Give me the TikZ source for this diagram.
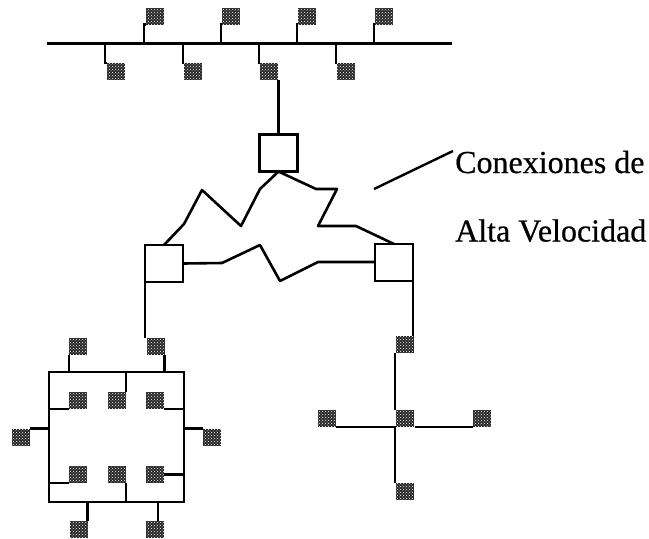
\documentclass[tikz,border=0pt]{standalone}
\usepackage{fontspec}
\usetikzlibrary{patterns}
\setmainfont[FakeBold=0.6]{Liberation Serif}
\begin{document}
\begin{tikzpicture}[x=1pt,y=-1pt,
  wire/.style={line width=2.4pt,black},
  thick wire/.style={line width=2.6pt,black},
  host/.style={draw=none,preaction={fill=black!85},pattern=crosshatch dots,pattern color=white,minimum width=18pt,minimum height=17pt,inner sep=0pt,outer sep=0pt,rectangle},
  switch/.style={draw=black,line width=2.6pt,fill=white,minimum width=38pt,minimum height=37pt,inner sep=0pt,outer sep=0pt,rectangle},
  label text/.style={inner sep=0pt,anchor=base west,font=\fontsize{32}{32}\selectfont}]
\useasboundingbox (0,0) rectangle (649,539);
% bus
\coordinate (busL) at (47,43.5);
\coordinate (busR) at (452,43.5);
\draw[thick wire] (busL) -- (busR);
\foreach \n/\x in {u1/154.5,u2/231,u3/307,u4/384}
  \node[host] (\n) at (\x,16) {};
\foreach \n/\x in {d1/116,d2/193,d3/269,d4/346}
  \node[host] (\n) at (\x,71.5) {};
\foreach \n/\x in {u1/144,u2/221,u3/297,u4/374}
  {\coordinate (b\n) at (\x,43.5); \draw[wire] (b\n) |- (\n.south west);}
\foreach \n/\x in {d1/105,d2/183,d3/259,d4/336}
  {\coordinate (b\n) at (\x,43.5); \draw[wire] (b\n) |- (\n.north west);}
% switches
\node[switch] (sT) at (278.5,153) {};
\node[switch] (sL) at (164,263.5) {};
\node[switch] (sR) at (394,262.5) {};
\draw[wire] (sT.north |- d3.south) -- (sT.north);
% zigzags
\draw[thick wire,line join=round] (sT.south) -- (260,189) -- (241,226) -- (202,190) -- (184,224) -- (sL.north);
\draw[thick wire,line join=round] (sT.south) -- (316,189) -- (337,189) -- (318,226) -- (356,226) -- (sR.north);
\draw[thick wire,line join=round] (sL.east) -- (222,263) -- (260,245) -- (280,281) -- (318,262) -- (sR.west |- 318,262);
% callout line
\coordinate (cA) at (374,189);
\coordinate (cB) at (453,151);
\draw[wire] (cA) -- (cB);
\node[label text] (t1) at (455,173) {Conexiones de};
\node[label text] (t2) at (455,241.5) {Alta Velocidad};
% ring group
\node[host] (o1) at (78,346) {};
\node[host] (o2) at (155.5,346) {};
\node[host] (oL) at (20.5,437) {};
\node[host] (oR) at (212,437) {};
\node[host] (o3) at (78.5,529) {};
\node[host] (o4) at (155,529) {};
\node[host] (i1) at (78,400.5) {};
\node[host] (i2) at (117,400.5) {};
\node[host] (i3) at (155,400.5) {};
\node[host] (i4) at (78,474.5) {};
\node[host] (i5) at (117,474.5) {};
\node[host] (i6) at (155,474.5) {};
\node[draw=black,line width=2.6pt,minimum width=135pt,minimum height=130pt,inner sep=0pt,outer sep=0pt,rectangle] (ring) at (116.5,437) {};
\draw[wire] (sL.south west) -- (sL.south west |- o2.north);
\draw[wire] (o2.south east) -- (o2.south east |- ring.north);
\draw[wire] (o1.south west) -- (o1.south west |- ring.north);
\draw[wire] (ring.west |- i1.south) -- (i1.south west);
\draw[wire] (i2.north east) -- (i2.north east |- ring.north);
\draw[wire] (i3.south east) -- (ring.east |- i3.south);
\draw[wire] (oL.north east) -- (ring.west |- oL.north);
\draw[wire] (oR.north west) -- (ring.east |- oR.north);
\draw[wire] (ring.west |- i4.south) -- (i4.south west);
\draw[wire] (i5.south east) -- (i5.south east |- ring.south);
\draw[wire] (i6.east) -- (ring.east |- i6.east);
\draw[wire] (o3.north east) -- (o3.north east |- ring.south);
\coordinate (o4s) at (158,502);
\draw[wire] (o4s) -- (o4s |- o4.north);
% tree group
\node[host] (a) at (404.5,344.5) {};
\node[host] (c) at (404.5,418.5) {};
\node[host] (l) at (327,418.5) {};
\node[host] (r) at (481.5,418.5) {};
\node[host] (e) at (404.5,491) {};
\coordinate (stem) at (395,427);
\coordinate (rs) at (415,427);
\draw[wire] (sR.south east) -- (sR.south east |- a.north);
\draw[wire] (stem |- a.south) -- (stem |- c.north);
\draw[wire] (l.south east) -- (stem) -- (stem |- e.north);
\draw[wire] (rs) -- (rs -| r.west);
\end{tikzpicture}
\end{document}
